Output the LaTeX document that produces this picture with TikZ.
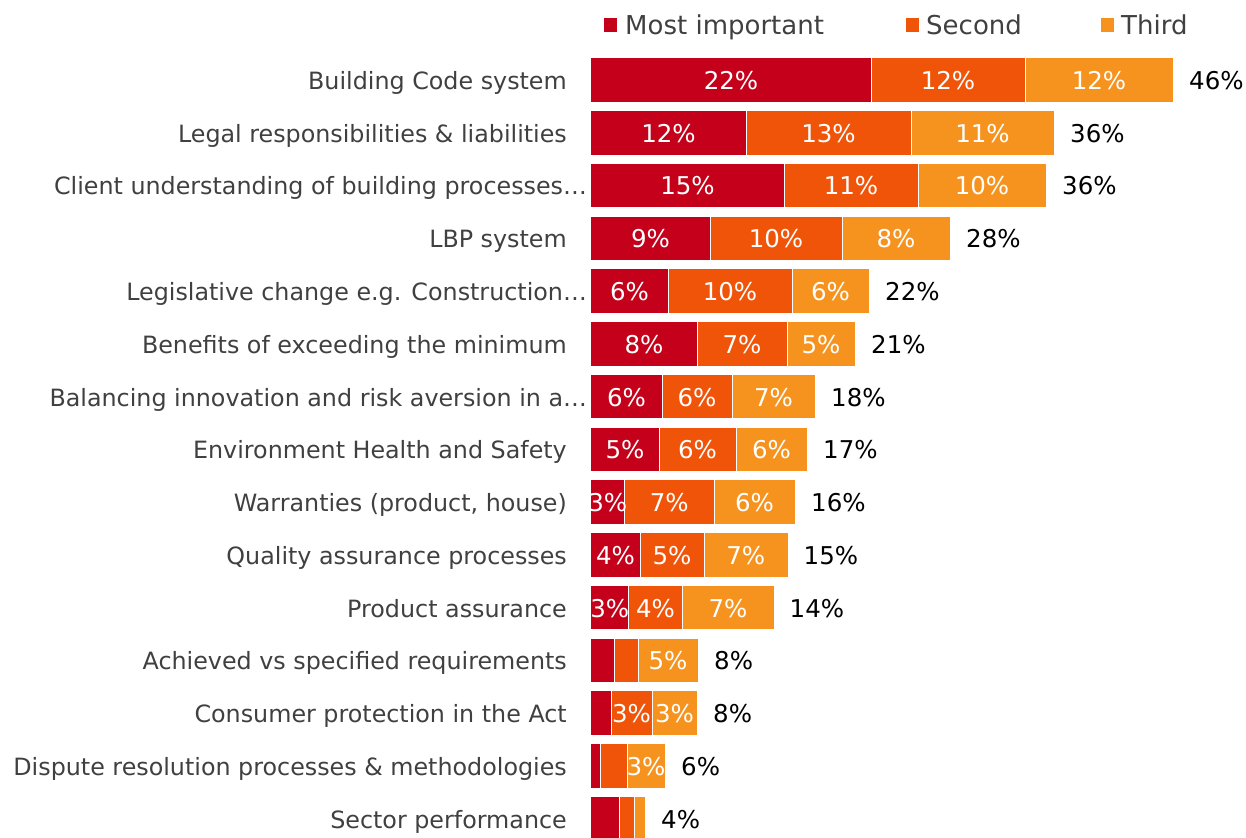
\documentclass[tikz,border=0pt]{standalone}
\usepackage{fontspec}
\setmainfont{DejaVu Sans}
\definecolor{cA}{HTML}{C4001A}
\definecolor{cB}{HTML}{F05408}
\definecolor{cC}{HTML}{F6931E}
\definecolor{txt}{HTML}{404040}
\begin{document}
\begin{tikzpicture}[x=1pt,y=-1pt,
  catlab/.style={anchor=base east,inner sep=0pt,text=txt,font=\fontsize{23.8}{28}\selectfont},
  datalab/.style={anchor=base,inner sep=0pt,text=white,font=\fontsize{24.5}{28}\selectfont},
  totlab/.style={anchor=base west,inner sep=0pt,text=black,font=\fontsize{24.5}{28}\selectfont},
  leglab/.style={anchor=base west,inner sep=0pt,text=txt,font=\fontsize{26}{30}\selectfont},
  segline/.style={draw=white,line width=0.7pt}]
\useasboundingbox (0,0) rectangle (1246,837);
% legend
\fill[cA] (604,18) rectangle (617,32);
\node[leglab] (legA) at (625,34.5) {Most important};
\fill[cB] (906,18) rectangle (919,32);
\node[leglab] (legB) at (926,34.5) {Second};
\fill[cC] (1101,18) rectangle (1114,32);
\node[leglab] (legC) at (1121,34.5) {Third};
% bars
\foreach \i/\lab/\lx/\a/\b/\c/\ta/\tb/\tc/\tot in {
 1/{Building Code system}/567/871/1025/1173/22\%/12\%/12\%/46\%,
 2/{Legal responsibilities \& liabilities}/567/746/911/1054/12\%/13\%/11\%/36\%,
 3/{Client understanding of building processes…}/587/784/918/1046/15\%/11\%/10\%/36\%,
 4/{LBP system}/567/710/842/950/9\%/10\%/8\%/28\%,
 5/{Legislative change e.g. Construction…}/587/668/792/869/6\%/10\%/6\%/22\%,
 6/{Benefits of exceeding the minimum}/567/697/787/855/8\%/7\%/5\%/21\%,
 7/{Balancing innovation and risk aversion in a…}/587/662/732/815/6\%/6\%/7\%/18\%,
 8/{Environment Health and Safety}/567/659/736/807/5\%/6\%/6\%/17\%,
 9/{Warranties (product, house)}/567/624.5/714/795/3\%/7\%/6\%/16\%,
 10/{Quality assurance processes}/567/640/704/787.5/4\%/5\%/7\%/15\%,
 11/{Product assurance}/567/628.5/682.5/773.5/3\%/4\%/7\%/14\%,
 12/{Achieved vs specified requirements}/567/614/638/698/{}/{}/5\%/8\%,
 13/{Consumer protection in the Act}/567/611/652/697/{}/3\%/3\%/8\%,
 14/{Dispute resolution processes \& methodologies}/567/600.3/627/665/{}/{}/3\%/6\%,
 15/{Sector performance}/567/619/634/645/{}/{}/{}/4\%}{
  \pgfmathsetmacro{\y}{80.05+52.76*(\i-1)}
  \pgfmathsetmacro{\yt}{\y-21.75}
  \pgfmathsetmacro{\yb}{\y+21.75}
  \pgfmathsetmacro{\yl}{\y+9.4}
  \fill[cA] (591,\yt) rectangle (\a,\yb);
  \fill[cB] (\a,\yt) rectangle (\b,\yb);
  \fill[cC] (\b,\yt) rectangle (\c,\yb);
  \draw[segline] (\a,\yt) -- (\a,\yb);
  \draw[segline] (\b,\yt) -- (\b,\yb);
  \node[catlab] (lab\i) at (\lx,\yl) {\lab};
  \begin{scope}
    \clip (591,0) rectangle (1246,837);
    \node[datalab] (da\i) at ({(591+\a)/2},\yl) {\ta};
    \node[datalab] (db\i) at ({(\a+\b)/2},\yl) {\tb};
    \node[datalab] (dc\i) at ({(\b+\c)/2},\yl) {\tc};
  \end{scope}
  \node[totlab] (tot\i) at (\c+16,\yl) {\tot};
}
\end{tikzpicture}
\end{document}
